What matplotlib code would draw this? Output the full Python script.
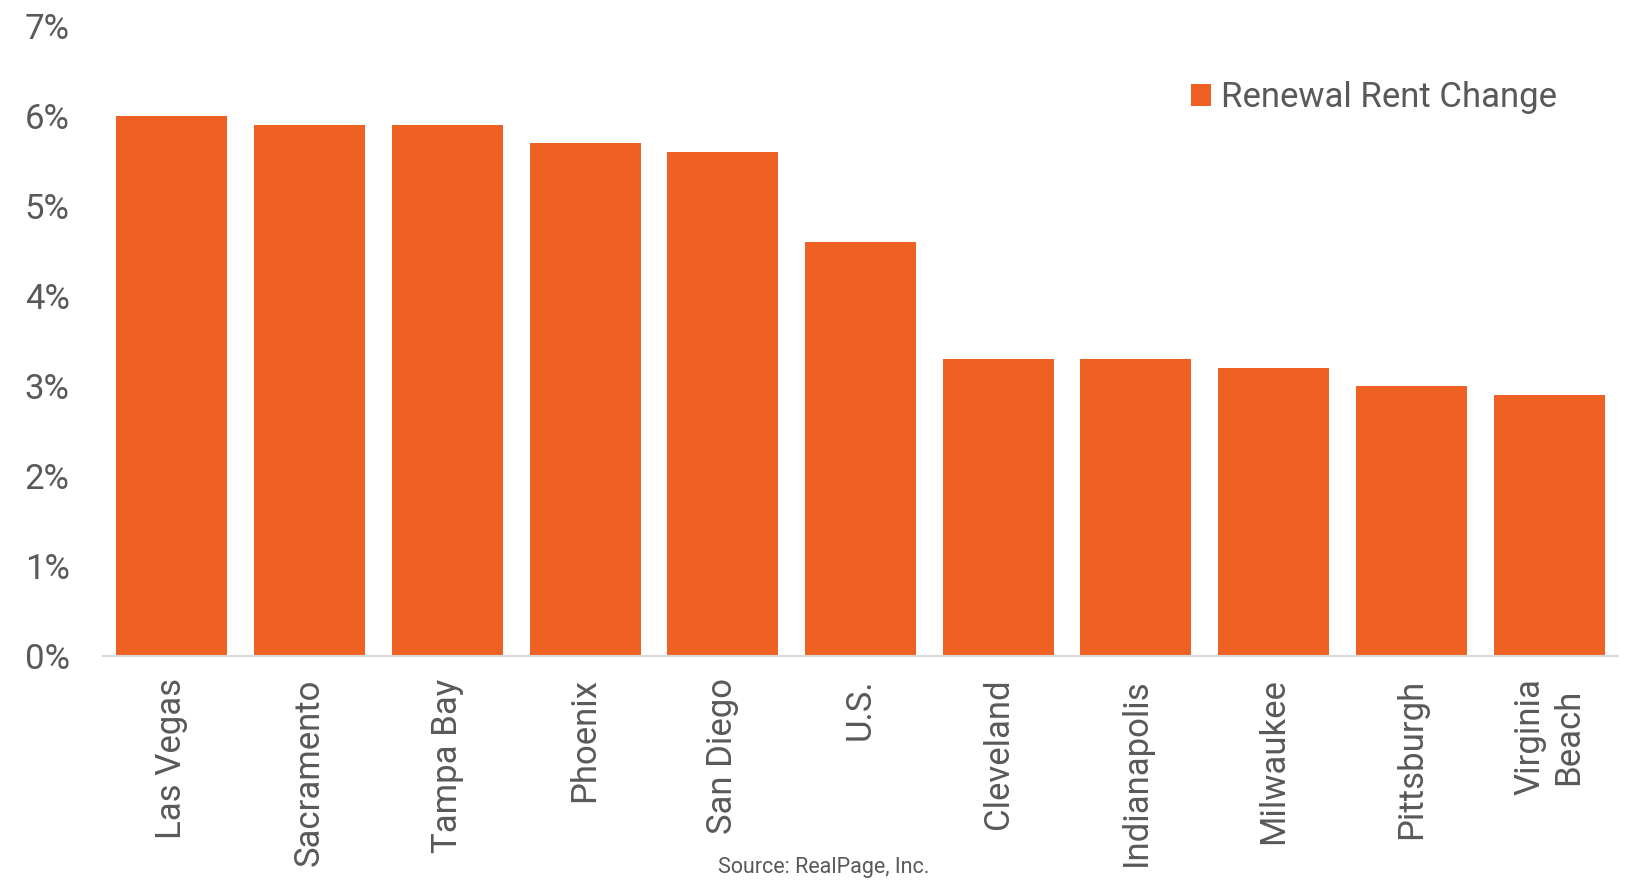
import matplotlib
matplotlib.use('Agg')
import matplotlib.pyplot as plt
import numpy as np

# renewal rent change by market (percent)
markets = ['Las Vegas', 'Sacramento', 'Tampa Bay', 'Phoenix', 'San Diego', 'U.S.',
           'Cleveland', 'Indianapolis', 'Milwaukee', 'Pittsburgh', 'Virginia\nBeach']
renewal_change = [6.0, 5.9, 5.9, 5.7, 5.6, 4.6, 3.3, 3.3, 3.2, 3.0, 2.9]
yticks = [0, 1, 2, 3, 4, 5, 6, 7]
ytick_labels = ['0%', '1%', '2%', '3%', '4%', '5%', '6%', '7%']

plt.rcParams['font.family'] = ['Roboto', 'DejaVu Sans']
text_col = '#595959'
bar_col = '#EF6122'

fig = plt.figure(figsize=(16.47, 8.82), dpi=100)
ax = fig.add_axes([0.0625, 0.2562, 0.9199, 0.7143])

x = np.arange(len(markets))
ax.bar(x, renewal_change, width=0.806, color=bar_col, label='Renewal Rent Change', zorder=2)

ax.set_xlim(-0.5, len(markets) - 0.5)
ax.set_ylim(0, 7)
ax.set_yticks(yticks)
ax.set_yticklabels(ytick_labels)
ax.set_xticks(x)
ax.set_xticklabels(markets, rotation=90, ha='center', va='top', multialignment='center')

ax.tick_params(axis='y', length=0, pad=24, labelsize=25, labelcolor=text_col)
ax.tick_params(axis='x', length=0, pad=16, labelsize=25, labelcolor=text_col)

for s in ['top', 'right', 'left']:
    ax.spines[s].set_visible(False)
ax.spines['bottom'].set_color('#D9D9D9')
ax.spines['bottom'].set_linewidth(1.5)

leg = ax.legend(frameon=False, loc='center right', bbox_to_anchor=(1557 / 1647, 1 - 98 / 882),
                bbox_transform=fig.transFigure, fontsize=25, handlelength=0.58, handleheight=0.58,
                handletextpad=0.29, borderpad=0, borderaxespad=0)
for t in leg.get_texts():
    t.set_color(text_col)

fig.text(0.5, 1 - 868 / 882, 'Source: RealPage, Inc.', ha='center', va='center',
         fontsize=15.5, color=text_col)

fig.savefig('out.png', dpi=100)
